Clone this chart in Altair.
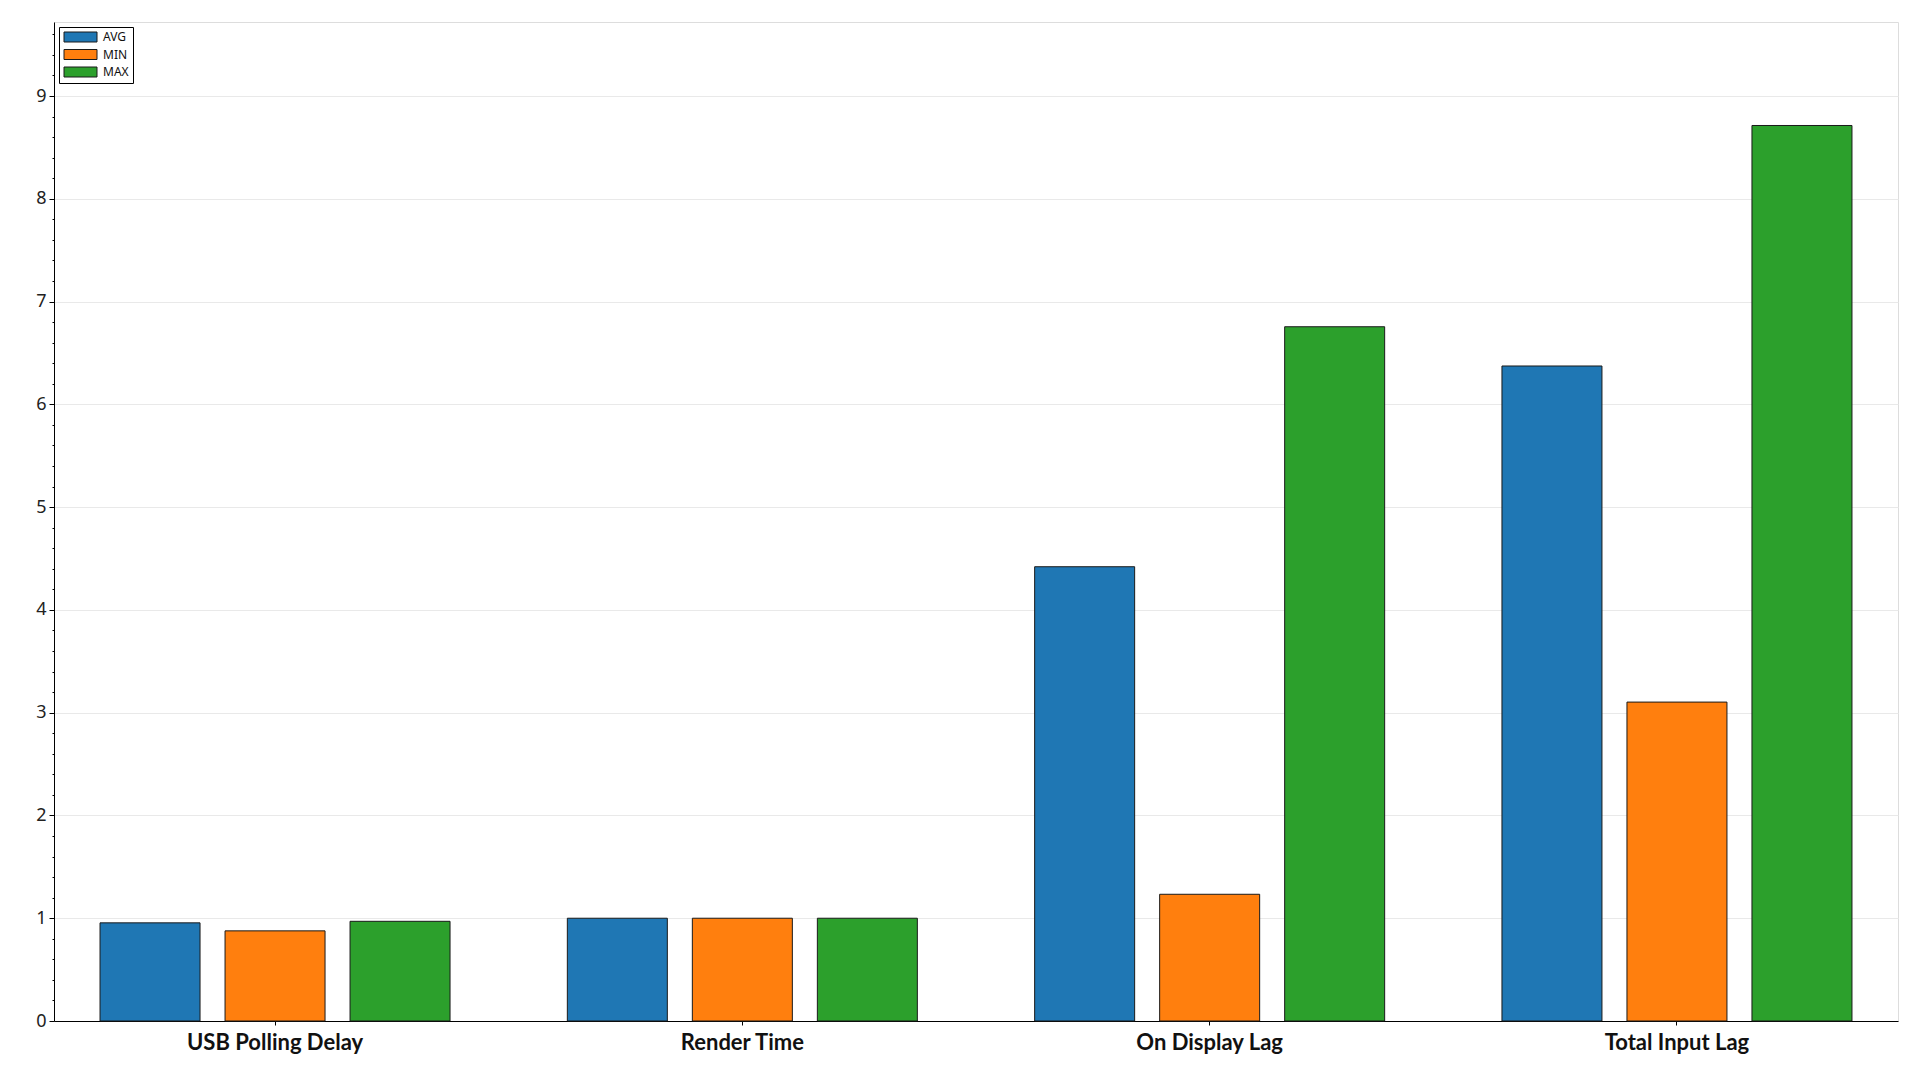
import altair as alt
import pandas as pd

categories = ["USB Polling Delay", "Render Time", "On Display Lag", "Total Input Lag"]
series = ["AVG", "MIN", "MAX"]
avg_vals = [0.955, 1.0, 4.42, 6.373]
min_vals = [0.877, 1.0, 1.233, 3.103]
max_vals = [0.970, 1.0, 6.755, 8.713]
colors = ["#1f77b4", "#ff7f0e", "#2ca02c"]
y_ticks = [round(i * 0.2, 1) for i in range(49)]

rows = []
for s, vals in zip(series, [avg_vals, min_vals, max_vals]):
    for c, v in zip(categories, vals):
        rows.append({"category": c, "series": s, "value": v})
df = pd.DataFrame(rows)

is_int = "abs(datum.value - round(datum.value)) < 0.001"

chart = alt.Chart(df).mark_bar(stroke="#1a1a1a", strokeWidth=1).encode(
    x=alt.X(
        "category:N",
        sort=categories,
        scale=alt.Scale(paddingInner=0.251, paddingOuter=0.0985),
        axis=alt.Axis(
            title=None,
            labelAngle=0,
            labelFont="Lato",
            labelFontWeight="bold",
            labelFontSize=22,
            labelColor="#111111",
            labelPadding=7,
            tickSize=4,
            tickColor="black",
            domainColor="black",
            grid=False,
        ),
    ),
    xOffset=alt.XOffset(
        "series:N",
        sort=series,
        scale=alt.Scale(paddingInner=0.2, paddingOuter=0),
    ),
    y=alt.Y(
        "value:Q",
        scale=alt.Scale(domain=[0, 9.72], nice=False),
        axis=alt.Axis(
            title=None,
            values=y_ticks,
            labelExpr=f"({is_int}) ? format(datum.value, 'd') : ''",
            labelFont="Noto Sans",
            labelFontSize=18,
            labelColor="#222222",
            labelPadding=3,
            tickSize={"condition": {"test": is_int, "value": 5}, "value": 2},
            tickColor="black",
            domainColor="black",
            grid=True,
            gridColor="#e9e9e9",
            gridOpacity={"condition": {"test": is_int + " && datum.value > 0", "value": 1}, "value": 0},
        ),
    ),
    color=alt.Color(
        "series:N",
        sort=series,
        scale=alt.Scale(domain=series, range=colors),
        legend=alt.Legend(
            title=None,
            orient="top-left",
            offset=5,
            padding=4,
            symbolType="M-1,-1H5.6V1H-1Z",
            symbolSize=100,
            symbolStrokeColor="#1a1a1a",
            symbolStrokeWidth=1,
            labelOffset=28,
            labelFont="Noto Sans",
            labelFontSize=12,
            labelColor="#111111",
            rowPadding=3.5,
            strokeColor="black",
            fillColor="white",
        ),
    ),
).properties(
    width=1844,
    height=999,
    autosize=alt.AutoSizeParams(type="none"),
    padding={"left": 46, "top": 14, "right": 14, "bottom": 50},
).configure_view(
    stroke="black", strokeWidth=1
).configure(
    background="white"
)

chart.save("out.html", embed_options={"renderer": "svg", "actions": False})
